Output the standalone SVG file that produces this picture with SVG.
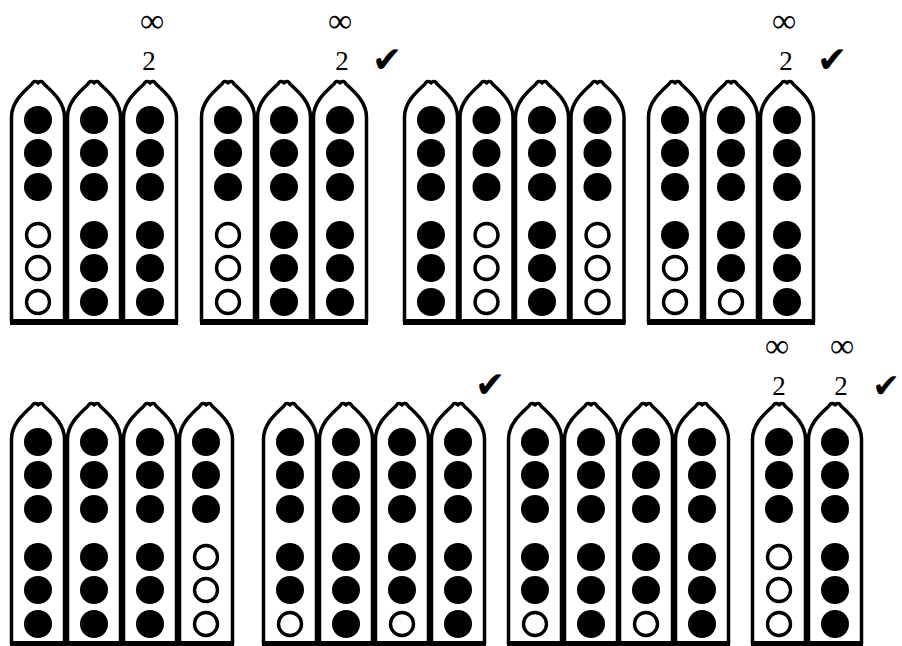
<svg xmlns="http://www.w3.org/2000/svg" xmlns:xlink="http://www.w3.org/1999/xlink" width="902" height="646" viewBox="0 0 902 646">
<style>
.pipe{fill:#fff;stroke:#000;stroke-width:3.5;stroke-linejoin:round}
.f{fill:#000}
.o{fill:#fff;stroke:#000;stroke-width:3.4}
.inf{font-family:"Liberation Serif","DejaVu Serif",serif;font-size:34px;text-anchor:middle;fill:#000}
.num{font-family:"Liberation Serif","DejaVu Serif",serif;font-size:27px;text-anchor:middle;fill:#000}
.chk{font-family:"DejaVu Sans",sans-serif;font-size:36px;text-anchor:middle;fill:#000}
.base{fill:#000}
</style>
<defs>
<path id="pipe" class="pipe" d="M-26.5,241 V36 C-26.5,22 -16,12 -6,3 Q-4.5,0 -3,0.5 Q-1.5,0 0,2 Q1.5,0 3,0.5 Q4.5,0 6,3 C16,12 26.5,22 26.5,36 V241 Z"/>
<circle id="F" class="f" r="14"/>
<circle id="O" class="o" r="11.5"/>
</defs>

<g id="g1">
<g transform="translate(38,81)"><use href="#pipe"/><use href="#F" y="39"/><use href="#F" y="72"/><use href="#F" y="106"/><use href="#O" y="154"/><use href="#O" y="187"/><use href="#O" y="221"/></g>
<g transform="translate(94,81)"><use href="#pipe"/><use href="#F" y="39"/><use href="#F" y="72"/><use href="#F" y="106"/><use href="#F" y="154"/><use href="#F" y="187"/><use href="#F" y="221"/></g>
<g transform="translate(150,81)"><use href="#pipe"/><use href="#F" y="39"/><use href="#F" y="72"/><use href="#F" y="106"/><use href="#F" y="154"/><use href="#F" y="187"/><use href="#F" y="221"/></g>
<rect class="base" x="10" y="319" width="168" height="6"/>
<text class="inf" x="152" y="32">∞</text>
<text class="num" x="149" y="70">2</text>
</g>

<g id="g2">
<g transform="translate(228,81)"><use href="#pipe"/><use href="#F" y="39"/><use href="#F" y="72"/><use href="#F" y="106"/><use href="#O" y="154"/><use href="#O" y="187"/><use href="#O" y="221"/></g>
<g transform="translate(284,81)"><use href="#pipe"/><use href="#F" y="39"/><use href="#F" y="72"/><use href="#F" y="106"/><use href="#F" y="154"/><use href="#F" y="187"/><use href="#F" y="221"/></g>
<g transform="translate(340,81)"><use href="#pipe"/><use href="#F" y="39"/><use href="#F" y="72"/><use href="#F" y="106"/><use href="#F" y="154"/><use href="#F" y="187"/><use href="#F" y="221"/></g>
<rect class="base" x="200" y="319" width="168" height="6"/>
<text class="inf" x="340" y="32">∞</text>
<text class="num" x="342" y="70">2</text>
<text class="chk" x="387" y="72">✔</text>
</g>

<g id="g3">
<g transform="translate(431,81)"><use href="#pipe"/><use href="#F" y="39"/><use href="#F" y="72"/><use href="#F" y="106"/><use href="#F" y="154"/><use href="#F" y="187"/><use href="#F" y="221"/></g>
<g transform="translate(486.5,81)"><use href="#pipe"/><use href="#F" y="39"/><use href="#F" y="72"/><use href="#F" y="106"/><use href="#O" y="154"/><use href="#O" y="187"/><use href="#O" y="221"/></g>
<g transform="translate(542,81)"><use href="#pipe"/><use href="#F" y="39"/><use href="#F" y="72"/><use href="#F" y="106"/><use href="#F" y="154"/><use href="#F" y="187"/><use href="#F" y="221"/></g>
<g transform="translate(597.5,81)"><use href="#pipe"/><use href="#F" y="39"/><use href="#F" y="72"/><use href="#F" y="106"/><use href="#O" y="154"/><use href="#O" y="187"/><use href="#O" y="221"/></g>
<rect class="base" x="403" y="319" width="222.5" height="6"/>
</g>

<g id="g4">
<g transform="translate(675,81)"><use href="#pipe"/><use href="#F" y="39"/><use href="#F" y="72"/><use href="#F" y="106"/><use href="#F" y="154"/><use href="#O" y="187"/><use href="#O" y="221"/></g>
<g transform="translate(731,81)"><use href="#pipe"/><use href="#F" y="39"/><use href="#F" y="72"/><use href="#F" y="106"/><use href="#F" y="154"/><use href="#F" y="187"/><use href="#O" y="221"/></g>
<g transform="translate(787,81)"><use href="#pipe"/><use href="#F" y="39"/><use href="#F" y="72"/><use href="#F" y="106"/><use href="#F" y="154"/><use href="#F" y="187"/><use href="#F" y="221"/></g>
<rect class="base" x="647" y="319" width="168" height="6"/>
<text class="inf" x="784" y="32">∞</text>
<text class="num" x="786" y="70">2</text>
<text class="chk" x="832" y="72">✔</text>
</g>

<g id="g5">
<g transform="translate(38,403)"><use href="#pipe"/><use href="#F" y="39"/><use href="#F" y="72"/><use href="#F" y="106"/><use href="#F" y="154"/><use href="#F" y="187"/><use href="#F" y="221"/></g>
<g transform="translate(94,403)"><use href="#pipe"/><use href="#F" y="39"/><use href="#F" y="72"/><use href="#F" y="106"/><use href="#F" y="154"/><use href="#F" y="187"/><use href="#F" y="221"/></g>
<g transform="translate(150,403)"><use href="#pipe"/><use href="#F" y="39"/><use href="#F" y="72"/><use href="#F" y="106"/><use href="#F" y="154"/><use href="#F" y="187"/><use href="#F" y="221"/></g>
<g transform="translate(206,403)"><use href="#pipe"/><use href="#F" y="39"/><use href="#F" y="72"/><use href="#F" y="106"/><use href="#O" y="154"/><use href="#O" y="187"/><use href="#O" y="221"/></g>
<rect class="base" x="10" y="641" width="224" height="6"/>
</g>

<g id="g6">
<g transform="translate(290,403)"><use href="#pipe"/><use href="#F" y="39"/><use href="#F" y="72"/><use href="#F" y="106"/><use href="#F" y="154"/><use href="#F" y="187"/><use href="#O" y="221"/></g>
<g transform="translate(346,403)"><use href="#pipe"/><use href="#F" y="39"/><use href="#F" y="72"/><use href="#F" y="106"/><use href="#F" y="154"/><use href="#F" y="187"/><use href="#F" y="221"/></g>
<g transform="translate(402,403)"><use href="#pipe"/><use href="#F" y="39"/><use href="#F" y="72"/><use href="#F" y="106"/><use href="#F" y="154"/><use href="#F" y="187"/><use href="#O" y="221"/></g>
<g transform="translate(458,403)"><use href="#pipe"/><use href="#F" y="39"/><use href="#F" y="72"/><use href="#F" y="106"/><use href="#F" y="154"/><use href="#F" y="187"/><use href="#F" y="221"/></g>
<rect class="base" x="262" y="641" width="224" height="6"/>
<text class="chk" x="490" y="397">✔</text>
</g>

<g id="g7">
<g transform="translate(535,403)"><use href="#pipe"/><use href="#F" y="39"/><use href="#F" y="72"/><use href="#F" y="106"/><use href="#F" y="154"/><use href="#F" y="187"/><use href="#O" y="221"/></g>
<g transform="translate(591,403)"><use href="#pipe"/><use href="#F" y="39"/><use href="#F" y="72"/><use href="#F" y="106"/><use href="#F" y="154"/><use href="#F" y="187"/><use href="#F" y="221"/></g>
<g transform="translate(646,403)"><use href="#pipe"/><use href="#F" y="39"/><use href="#F" y="72"/><use href="#F" y="106"/><use href="#F" y="154"/><use href="#F" y="187"/><use href="#O" y="221"/></g>
<g transform="translate(702,403)"><use href="#pipe"/><use href="#F" y="39"/><use href="#F" y="72"/><use href="#F" y="106"/><use href="#F" y="154"/><use href="#F" y="187"/><use href="#F" y="221"/></g>
<rect class="base" x="507" y="641" width="223" height="6"/>
</g>

<g id="g8">
<g transform="translate(779,403)"><use href="#pipe"/><use href="#F" y="39"/><use href="#F" y="72"/><use href="#F" y="106"/><use href="#O" y="154"/><use href="#O" y="187"/><use href="#O" y="221"/></g>
<g transform="translate(835,403)"><use href="#pipe"/><use href="#F" y="39"/><use href="#F" y="72"/><use href="#F" y="106"/><use href="#F" y="154"/><use href="#F" y="187"/><use href="#F" y="221"/></g>
<rect class="base" x="751" y="641" width="112" height="6"/>
<text class="inf" x="777" y="357">∞</text>
<text class="inf" x="842" y="357">∞</text>
<text class="num" x="779" y="395">2</text>
<text class="num" x="841" y="395">2</text>
<text class="chk" x="886" y="397" style="font-size:33px">✔</text>
</g>
</svg>
